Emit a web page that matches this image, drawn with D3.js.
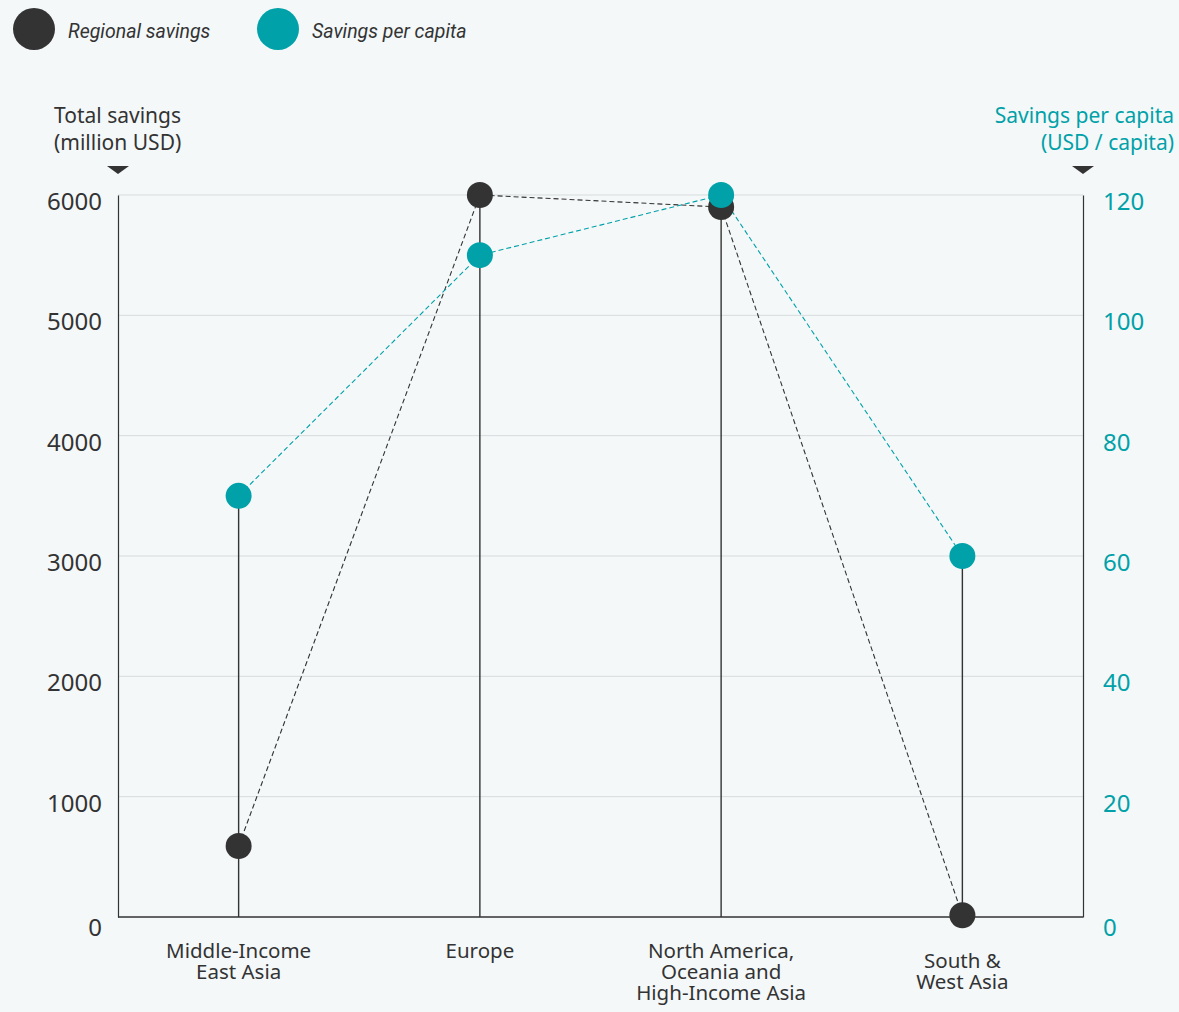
<!DOCTYPE html>
<html>
<head>
<meta charset="utf-8">
<script src="https://cdn.jsdelivr.net/npm/d3@7"></script>
<style>
  html, body { margin: 0; padding: 0; background: #f4f8f9; }
  svg { display: block; font-family: "Noto Sans", Roboto, sans-serif; }
</style>
</head>
<body>
<svg id="chart" width="1179" height="1012"></svg>
<script>
// Regions along the x axis (each entry is a list of label lines)
const regions = [
  ["Middle-Income", "East Asia"],
  ["Europe"],
  ["North America,", "Oceania and", "High-Income Asia"],
  ["South &", "West Asia"]
];
// Total savings, million USD
const regionalSavings = [590, 6000, 5900, 15];
// Savings per capita, USD / capita
const savingsPerCapita = [70, 110, 120, 60];
const leftTicks = [0, 1000, 2000, 3000, 4000, 5000, 6000];
const rightTicks = [0, 20, 40, 60, 80, 100, 120];

const DARK = "#333333";
const TEAL = "#00a1a8";
const GRID = "#d6dbdd";

const svg = d3.select("#chart");
const m = { left: 118, right: 1083, top: 195, bottom: 917 };

const x = d3.scaleBand().domain(d3.range(regions.length)).range([m.left, m.right]).padding(0);
const cx = i => x(i) + x.bandwidth() / 2;
const yL = d3.scaleLinear().domain([0, 6000]).range([m.bottom, m.top]);
const yR = d3.scaleLinear().domain([0, 120]).range([m.bottom, m.top]);

// gridlines
svg.append("g").selectAll("line").data(leftTicks.slice(1)).join("line")
  .attr("x1", m.left).attr("x2", m.right)
  .attr("y1", d => yL(d)).attr("y2", d => yL(d))
  .attr("stroke", GRID).attr("stroke-width", 1);

// left axis
const gL = svg.append("g").attr("transform", `translate(${m.left},0)`)
  .call(d3.axisLeft(yL).tickValues(leftTicks).tickFormat(d3.format("d")).tickSize(0).tickPadding(16));
gL.select(".domain").attr("stroke", DARK).attr("stroke-width", 1.2);
gL.selectAll("text").attr("fill", DARK).attr("font-size", 24).attr("font-family", "'Noto Sans', sans-serif")
  .attr("dy", d => d === 0 ? "0.76em" : "0.6em");

// right axis
const gR = svg.append("g").attr("transform", `translate(${m.right},0)`)
  .call(d3.axisRight(yR).tickValues(rightTicks).tickFormat(d3.format("d")).tickSize(0).tickPadding(20));
gR.select(".domain").attr("stroke", DARK).attr("stroke-width", 1.2);
gR.selectAll("text").attr("fill", TEAL).attr("font-size", 24).attr("font-family", "'Noto Sans', sans-serif")
  .attr("dy", d => d === 0 ? "0.76em" : "0.6em");

// baseline
svg.append("line").attr("x1", m.left).attr("x2", m.right)
  .attr("y1", m.bottom).attr("y2", m.bottom)
  .attr("stroke", DARK).attr("stroke-width", 1.5);

// axis titles with triangle markers
function axisTitle(lines, xPos, anchor, color) {
  const t = svg.append("text").attr("x", xPos).attr("y", 123)
    .attr("text-anchor", anchor).attr("fill", color).attr("font-size", 21);
  lines.forEach((l, i) => t.append("tspan").attr("x", xPos).attr("dy", i ? 27 : 0).text(l));
}
axisTitle(["Total savings", "(million USD)"], 54, "start", DARK);
axisTitle(["Savings per capita", "(USD / capita)"], 1174, "end", TEAL);
[m.left, m.right].forEach(px => {
  svg.append("path")
    .attr("d", `M${px - 11},166 L${px + 11},166 L${px},174 Z`)
    .attr("fill", DARK);
});

// dashed connectors
const lineL = d3.line().x((d, i) => cx(i)).y(d => yL(d));
const lineR = d3.line().x((d, i) => cx(i)).y(d => yR(d));
svg.append("path").attr("d", lineL(regionalSavings)).attr("fill", "none")
  .attr("stroke", DARK).attr("stroke-width", 1.1).attr("stroke-dasharray", "5,3");
svg.append("path").attr("d", lineR(savingsPerCapita)).attr("fill", "none")
  .attr("stroke", TEAL).attr("stroke-width", 1.1).attr("stroke-dasharray", "5,3");

// stems up to the higher of the two dots
svg.append("g").selectAll("line").data(regions).join("line")
  .attr("x1", (d, i) => cx(i)).attr("x2", (d, i) => cx(i))
  .attr("y1", m.bottom)
  .attr("y2", (d, i) => Math.min(yL(regionalSavings[i]), yR(savingsPerCapita[i])))
  .attr("stroke", DARK).attr("stroke-width", 1.4);

// dots
svg.append("g").selectAll("circle").data(regionalSavings).join("circle")
  .attr("cx", (d, i) => cx(i)).attr("cy", d => yL(d)).attr("r", 13).attr("fill", DARK);
svg.append("g").selectAll("circle").data(savingsPerCapita).join("circle")
  .attr("cx", (d, i) => cx(i)).attr("cy", d => yR(d)).attr("r", 13).attr("fill", TEAL);

// category labels
regions.forEach((lines, i) => {
  const shift = lines.length === 2 && i === regions.length - 1 ? 10 : 0;
  const t = svg.append("text").attr("text-anchor", "middle")
    .attr("x", cx(i)).attr("y", 958 + shift).attr("fill", DARK).attr("font-size", 20.5);
  lines.forEach((l, k) => t.append("tspan").attr("x", cx(i)).attr("dy", k ? 21 : 0).text(l));
});

// legend
const legend = [["Regional savings", DARK, 34], ["Savings per capita", TEAL, 278]];
legend.forEach(([label, color, lx]) => {
  svg.append("circle").attr("cx", lx).attr("cy", 29).attr("r", 21).attr("fill", color);
  svg.append("text").attr("x", lx + 34).attr("y", 38).attr("font-size", 19.5)
    .attr("font-family", "Roboto, sans-serif")
    .attr("font-style", "italic").attr("fill", DARK).text(label);
});
</script>
</body>
</html>
